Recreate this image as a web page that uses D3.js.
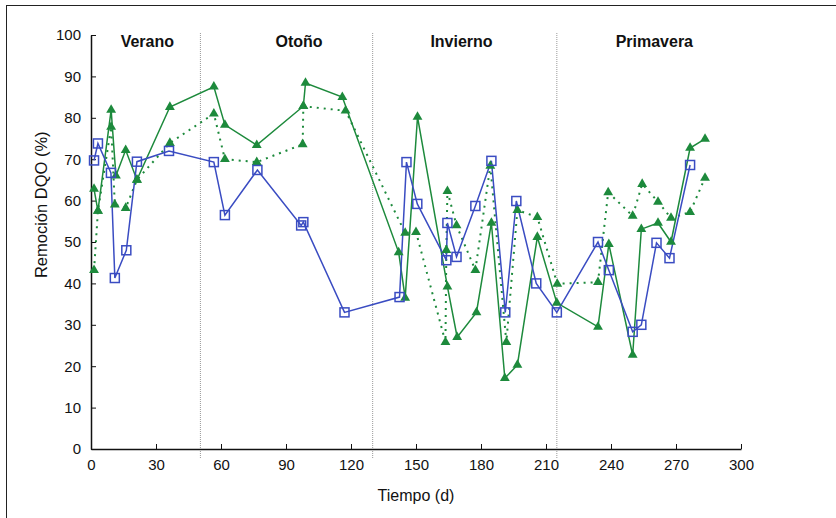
<!DOCTYPE html>
<html>
<head>
<meta charset="utf-8">
<script src="https://cdn.jsdelivr.net/npm/d3@7"></script>
<style>
  body { margin: 0; background: #fff; }
  svg { font-family: "Liberation Sans", Arial, sans-serif; }
</style>
</head>
<body>
<svg width="836" height="518"></svg>
<script>
// Data
let blueX = [1.4, 3.2, 9.2, 11, 16.3, 21.2, 36, 56.7, 61.8, 76.8, 97, 98, 117, 142.4, 145.6, 150.6, 164, 164.5, 168.7, 177.4, 184.8, 191.2, 196.3, 205.5, 215, 234, 239, 250, 254, 261, 267, 276.5];
let blueY = [69.7, 73.8, 66.7, 41.3, 48, 69.4, 72, 69.3, 56.5, 67.4, 54, 54.8, 33, 36.7, 69.3, 59.2, 45.6, 54.6, 46.4, 58.7, 69.6, 33, 59.9, 40, 33, 50, 43.2, 28.3, 30, 49.8, 46.1, 68.6];

let solidX = [1.4, 3.2, 9.3, 11.5, 16, 21.2, 36.4, 56.7, 61.8, 76.5, 98, 99, 116, 142, 145, 150.7, 164.5, 169, 177.9, 184.8, 191, 196.8, 206, 215, 234, 239, 250, 254, 261.7, 267.7, 276.5, 283.4];
let solidY = [62.8, 57.5, 81.9, 66, 72.2, 65, 82.6, 87.5, 78.3, 73.4, 82.8, 88.4, 85, 47.5, 36.5, 80.2, 39.2, 27, 33, 54.6, 17.1, 20.3, 51.2, 35.3, 29.5, 49.5, 22.7, 53.1, 54.6, 50, 72.7, 74.9];

let dotX = [1.4, 3.2, 9.3, 11, 16, 21.2, 36.4, 56.7, 61.8, 76.5, 97.7, 98, 117.5, 145, 150, 163.6, 164, 164.5, 168.7, 177.4, 184.3, 191.7, 196.8, 206, 215.2, 234, 238.7, 250, 254.4, 261.7, 267.7, 276.5, 283.4];
let dotY = [43.2, 57.5, 77.8, 59, 58.2, 65, 73.9, 81, 70, 69.3, 73.6, 82.8, 81.7, 52.2, 52.4, 25.8, 48, 62.3, 54, 43.2, 68.4, 25.8, 57.7, 56, 39.9, 40.3, 62, 56.3, 64, 59.7, 55.8, 57.2, 65.5];

let seasonBreaks = [50.5, 130, 215];
let seasonNames = ['Verano', 'Otoño', 'Invierno', 'Primavera'];
let seasonCenters = [26, 96, 171, 260];

let xTicks = d3.range(0, 301, 30);
let yTicks = d3.range(0, 101, 10);

// Layout
let margin = { left: 91, right: 95, top: 35, bottom: 69 };
let width = 836, height = 518;

let svg = d3.select('svg');

let x = d3.scaleLinear().domain([0, 300]).range([margin.left, width - margin.right]);
let y = d3.scaleLinear().domain([0, 100]).range([height - margin.bottom, margin.top]);

let blue = '#3a4cc2', green = '#1d8a3c';

// outer frame (only left/top are visible in the picture)
svg.append('rect')
    .attr('x', 6.5).attr('y', 5.5)
    .attr('width', 900).attr('height', 600)
    .attr('fill', 'none').attr('stroke', '#222').attr('stroke-width', 1);

// season separators
svg.selectAll('.sep')
    .data(seasonBreaks)
    .enter()
    .append('line')
    .attr('x1', d => x(d)).attr('x2', d => x(d))
    .attr('y1', margin.top - 2).attr('y2', y(0) + 9)
    .attr('stroke', '#999').attr('stroke-width', 1)
    .attr('stroke-dasharray', '1,1');

svg.selectAll('.season')
    .data(seasonNames)
    .enter()
    .append('text')
    .attr('x', (d, i) => x(seasonCenters[i]))
    .attr('y', 47)
    .attr('text-anchor', 'middle')
    .attr('font-size', 16)
    .attr('font-weight', 'bold')
    .attr('fill', '#111')
    .text(d => d);

// axes
let xAxis = d3.axisBottom(x).tickValues(xTicks).tickSizeInner(-5).tickSizeOuter(0).tickPadding(10);
let yAxis = d3.axisLeft(y).tickValues(yTicks).tickSizeInner(-5).tickSizeOuter(0).tickPadding(10);

let gx = svg.append('g').attr('transform', `translate(0,${y(0)})`).call(xAxis);
let gy = svg.append('g').attr('transform', `translate(${x(0)},0)`).call(yAxis);

[gx, gy].forEach(g => {
    g.select('.domain').attr('stroke', '#111').attr('stroke-width', 1.5);
    g.selectAll('.tick line').attr('stroke', '#111');
    g.selectAll('.tick text').attr('font-size', 15).attr('fill', '#111').attr('font-family', '"Liberation Sans", Arial, sans-serif');
});

svg.append('text')
    .attr('x', x(150)).attr('y', 501)
    .attr('text-anchor', 'middle')
    .attr('font-size', 16)
    .attr('fill', '#111')
    .text('Tiempo (d)');

svg.append('text')
    .attr('transform', `translate(47,${y(59)}) rotate(-90)`)
    .attr('text-anchor', 'middle')
    .attr('font-size', 16.5)
    .attr('fill', '#111')
    .text('Remoción DQO (%)');

// lines
let line = d3.line().x(d => x(d[0])).y(d => y(d[1]));

let dotPts = d3.zip(dotX, dotY);
let solidPts = d3.zip(solidX, solidY);
let bluePts = d3.zip(blueX, blueY);

svg.append('path').datum(dotPts).attr('d', line)
    .attr('fill', 'none').attr('stroke', green).attr('stroke-width', 2)
    .attr('stroke-dasharray', '2,5');

svg.append('path').datum(solidPts).attr('d', line)
    .attr('fill', 'none').attr('stroke', green).attr('stroke-width', 1.5);

svg.append('path').datum(bluePts).attr('d', line)
    .attr('fill', 'none').attr('stroke', blue).attr('stroke-width', 1.5);

// markers
let tri = d3.symbol().type(d3.symbolTriangle).size(42);

svg.selectAll('.tri')
    .data(dotPts.concat(solidPts))
    .enter()
    .append('path')
    .attr('d', tri)
    .attr('transform', d => `translate(${x(d[0])},${y(d[1])})`)
    .attr('fill', green);

svg.selectAll('.sq')
    .data(bluePts)
    .enter()
    .append('rect')
    .attr('x', d => x(d[0]) - 4.5)
    .attr('y', d => y(d[1]) - 4.5)
    .attr('width', 9).attr('height', 9)
    .attr('fill', 'none')
    .attr('stroke', blue).attr('stroke-width', 1.5);
</script>
</body>
</html>
